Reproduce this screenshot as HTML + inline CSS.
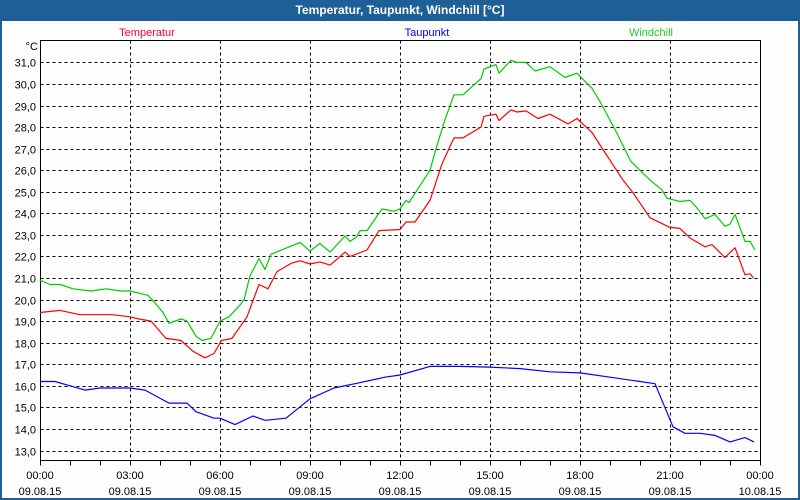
<!DOCTYPE html>
<html><head><meta charset="utf-8"><style>
html,body{margin:0;padding:0;background:#fff}
#wrap{position:relative;width:800px;height:500px;overflow:hidden;background:#1e5f97;font-family:"Liberation Sans","DejaVu Sans",sans-serif}
#title{position:absolute;left:0;top:0;width:800px;height:20px;line-height:20px;text-align:center;color:#fff;font-weight:bold;font-size:12px}
#panel{position:absolute;left:2px;top:21px;width:796px;height:477px;background:#fdfefd}
svg{position:absolute;left:0;top:0}
</style></head><body>
<div id="wrap">
<div id="title">Temperatur, Taupunkt, Windchill [°C]</div>
<div id="panel"></div>
<svg id="chart" width="800" height="500"></svg>
</div>
<script>
const yTicks=[13,14,15,16,17,18,19,20,21,22,23,24,25,26,27,28,29,30,31];
const xTickHours=[0,3,6,9,12,15,18,21,24];
const xTimeLabels=["00:00","03:00","06:00","09:00","12:00","15:00","18:00","21:00","00:00"];
const xDateLabels=["09.08.15","09.08.15","09.08.15","09.08.15","09.08.15","09.08.15","09.08.15","09.08.15","10.08.15"];
const tempHours=[0,0.67,1.33,2.4,3,3.3,3.7,4.2,4.7,5.1,5.5,5.8,6.05,6.4,6.9,7.3,7.6,7.9,8.4,8.67,9,9.33,9.67,10.17,10.33,10.9,11.3,12,12.2,12.5,13,13.2,13.4,13.8,14.1,14.7,14.8,15.2,15.3,15.7,15.9,16.2,16.6,17,17.6,17.9,18.4,18.7,19.43,19.77,20.33,21,21.33,21.67,22.17,22.4,22.83,23.17,23.5,23.67,23.78];
const tempValues=[19.4,19.5,19.3,19.3,19.2,19.1,19.0,18.2,18.1,17.6,17.3,17.5,18.1,18.2,19.2,20.7,20.5,21.3,21.7,21.8,21.65,21.75,21.6,22.2,22.0,22.3,23.2,23.25,23.6,23.6,24.6,25.45,26.3,27.5,27.5,28.0,28.5,28.6,28.3,28.8,28.7,28.75,28.4,28.6,28.15,28.4,27.75,27.1,25.55,24.95,23.8,23.35,23.3,22.85,22.45,22.55,21.95,22.4,21.15,21.2,21.0];
const dewHours=[0,0.5,1,1.5,2,3,3.5,4.3,4.9,5.2,5.8,6,6.5,7.1,7.5,8.2,9,9.8,10.5,11.5,12,13,14,15,16,17,18,19,20,20.5,21.1,21.5,22,22.5,23,23.5,23.8];
const dewValues=[16.2,16.2,16.0,15.8,15.9,15.9,15.8,15.2,15.2,14.8,14.5,14.5,14.2,14.6,14.4,14.5,15.4,15.9,16.1,16.4,16.5,16.9,16.9,16.87,16.8,16.65,16.6,16.4,16.2,16.1,14.1,13.8,13.8,13.7,13.4,13.6,13.4];
const chillHours=[0,0.33,0.67,1.1,1.7,2.2,2.7,3,3.6,3.8,4.1,4.3,4.7,4.9,5.2,5.4,5.7,6,6.3,6.7,6.8,7,7.3,7.5,7.7,8.67,9,9.33,9.67,10.17,10.33,10.55,10.67,10.9,11.4,11.8,12,12.2,12.3,13,13.2,13.5,13.8,14.1,14.7,14.8,15.2,15.3,15.7,15.9,16.2,16.5,17,17.5,17.9,18.4,18.7,19.2,19.7,20.33,20.72,20.9,21.33,21.67,21.9,22.17,22.5,22.83,23,23.17,23.5,23.67,23.83];
const chillValues=[20.9,20.7,20.7,20.5,20.4,20.5,20.4,20.4,20.2,19.9,19.4,18.9,19.1,19.0,18.3,18.1,18.2,19.0,19.2,19.8,20.0,21.1,21.9,21.4,22.1,22.65,22.25,22.6,22.2,22.95,22.7,22.9,23.2,23.2,24.2,24.1,24.2,24.6,24.5,26.0,27.0,28.35,29.5,29.5,30.25,30.7,30.9,30.5,31.1,31.0,31.0,30.6,30.8,30.3,30.5,29.8,29.1,27.8,26.4,25.55,25.1,24.7,24.55,24.6,24.25,23.75,23.95,23.4,23.5,23.95,22.7,22.7,22.3];

const svg=document.getElementById('chart');
const NS='http://www.w3.org/2000/svg';
const L=40.5,R=760.5,T=40.5,B=460.5;
function xs(h){return 40+h*30;}
function ys(v){return 450.5-(v-13)*21.56;}
function mk(tag,attrs){const e=document.createElementNS(NS,tag);for(const k in attrs)e.setAttribute(k,attrs[k]);svg.appendChild(e);return e;}
function txt(x,y,s,anchor,color,size){const t=mk('text',{x:x,y:y,'text-anchor':anchor,fill:color,'font-size':size||11,'font-family':'"Liberation Sans","DejaVu Sans",sans-serif'});t.textContent=s;return t;}

yTicks.forEach(v=>{
  const y=Math.round(ys(v))+0.5;
  const g=mk('line',{x1:L,x2:R,y1:y,y2:y,stroke:'#000','stroke-dasharray':'3,3','stroke-width':1});
  
  
  const t=txt(36,y+4,v.toFixed(1).replace('.',','),'end','#000',11);
  
  
});
xTickHours.forEach((h,i)=>{
  const x=Math.round(xs(h))+0.5;
  if(h>0&&h<24){
    const g=mk('line',{x1:x,x2:x,y1:T,y2:B,stroke:'#000','stroke-dasharray':'3,3','stroke-width':1});
    
    
  }
  const t1=txt(xs(h),479,xTimeLabels[i],'middle','#000',11);
  
  
  const t2=txt(xs(h),495,xDateLabels[i],'middle','#000',11);
  
  
});
for(let h=0;h<=24;h++){
  const x=Math.round(xs(h))+0.5;
  const m=mk('line',{x1:x,x2:x,y1:B,y2:B+5,stroke:'#000','stroke-width':1});
  
  
}
const fr=mk('rect',{x:L,y:T,width:R-L,height:B-T,fill:'none',stroke:'#000','stroke-width':1});



function series(hs,vs,color,name){
  const p=mk('polyline',{points:hs.map((h,i)=>xs(h).toFixed(1)+','+ys(vs[i]).toFixed(1)).join(' '),fill:'none',stroke:color,'stroke-width':1.2,'stroke-linejoin':'round'});
  
  
}
series(dewHours,dewValues,'#0000ff','dewpoint-line');
series(tempHours,tempValues,'#ff0000','temperature-line');
series(chillHours,chillValues,'#00cc00','windchill-line');

const u=txt(38,50,'°C','end','#000',11);


const l1=txt(147,36,'Temperatur','middle','#ff0033',11);


const l2=txt(427,36,'Taupunkt','middle','#0000ee',11);


const l3=txt(651,36,'Windchill','middle','#22cc22',11);


</script>
</body></html>
